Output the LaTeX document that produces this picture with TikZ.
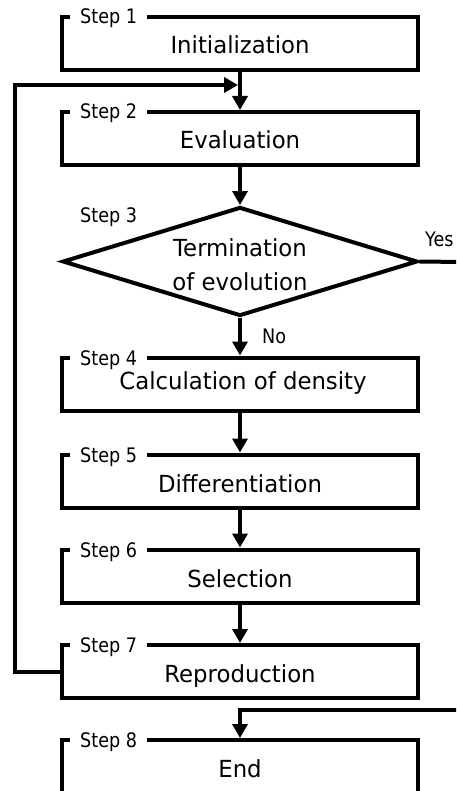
\documentclass[tikz,border=0pt]{standalone}
\usepackage{fontspec}
\setmainfont{DejaVu Sans}
\newfontfamily\labelfont{DejaVu Sans}[FakeStretch=0.88]
\newfontfamily\boxfont{DejaVu Sans}[FakeStretch=0.97]
\usetikzlibrary{arrows.meta,shapes.geometric}
\begin{document}
\begin{tikzpicture}[x=1pt,y=-1pt,
  flow/.style={line width=4pt},
  arrow/.style={flow,-{Triangle[width=15pt,length=14pt]}},
  stepbox/.style={draw,line width=4pt,rectangle,minimum width=356pt,minimum height=53pt,inner sep=0pt},
  decision/.style={draw,line width=4pt,diamond,minimum width=355pt,minimum height=109pt,inner sep=0pt},
  maintext/.style={font=\boxfont\fontsize{23.5}{27}\selectfont,inner sep=0pt,anchor=base},
  steplabel/.style={font=\labelfont\fontsize{20}{23}\selectfont,fill=white,inner xsep=10pt,inner ysep=1pt,anchor=base west},
  branchlabel/.style={font=\labelfont\fontsize{20}{23}\selectfont,inner sep=0pt,anchor=base west}
]
\useasboundingbox (0,0) rectangle (456,791);
\clip (0,0) rectangle (456,791);
\fill[white] (0,0) rectangle (456,791);

% process boxes and the decision
\node[stepbox] (s1) at (240,43.5) {};
\node[stepbox] (s2) at (240,138.5) {};
\node[decision] (d3) at (240,261.5) {};
\node[stepbox] (s4) at (240,384) {};
\node[stepbox] (s5) at (240,481) {};
\node[stepbox] (s6) at (240,576) {};
\node[stepbox] (s7) at (240,671.5) {};
\node[stepbox] (s8) at (240,766.5) {};

% step labels sitting on the top edges
\node[steplabel] (l1) at (70,24) {Step 1};
\node[steplabel] (l2) at (70,119) {Step 2};
\node[branchlabel] (l3) at (80,223) {Step 3};
\node[steplabel] (l4) at (70,365) {Step 4};
\node[steplabel] (l5) at (70,462) {Step 5};
\node[steplabel] (l6) at (70,557) {Step 6};
\node[steplabel] (l7) at (70,652) {Step 7};
\node[steplabel] (l8) at (70,747) {Step 8};

% box contents
\node[maintext] (t1) at (240,54) {Initialization};
\node[maintext] (t2) at (240,149) {Evaluation};
\node[maintext] (t3a) at (240,257) {Termination};
\node[maintext] (t3b) at (240,290) {of evolution};
\node[maintext] (t4) at (243,389) {Calculation of density};
\node[maintext] (t5) at (240,492) {Differentiation};
\node[maintext] (t6) at (240,587) {Selection};
\node[maintext] (t7) at (240,682) {Reproduction};
\node[maintext] (t8) at (240,777) {End};

% branch labels
\node[branchlabel] (yes) at (425,247) {Yes};
\node[branchlabel] (no) at (262,343) {No};

% main flow
\draw[arrow] (s1) -- (s2);
\draw[arrow] (s2) -- (d3);
\draw[arrow] (d3) -- (s4);
\draw[arrow] (s4) -- (s5);
\draw[arrow] (s5) -- (s6);
\draw[arrow] (s6) -- (s7);

% loop back from reproduction to evaluation
\coordinate (loop) at (15,85);
\coordinate (join) at (238,85);
\draw[arrow] (s7.west) -| (loop) -- (join);

% termination branch
\coordinate (yesout) at (462,262);
\coordinate (yesin) at (462,710);
\draw[flow] (d3.east) -- (yesout);
\draw[arrow] (yesin) -| (s8.north);
\end{tikzpicture}
\end{document}
